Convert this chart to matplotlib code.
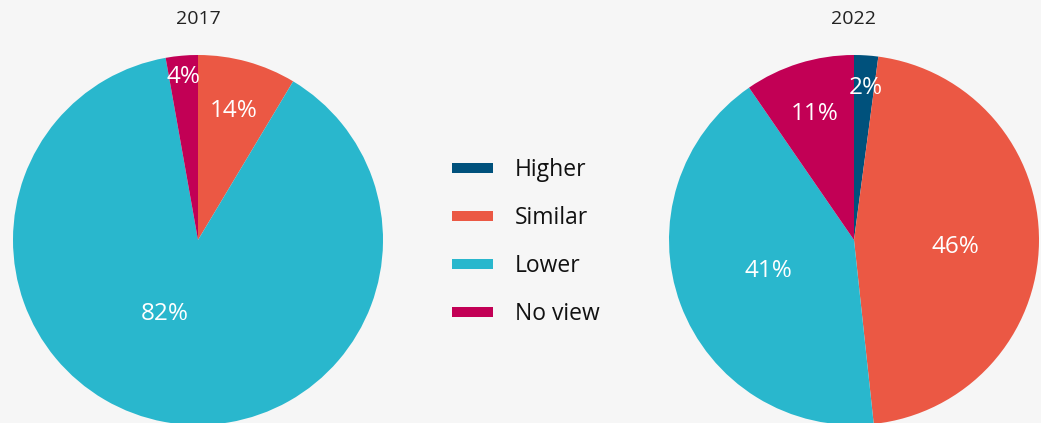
import matplotlib.pyplot as plt
from matplotlib.patches import Rectangle

categories = ["Higher", "Similar", "Lower", "No view"]
years = ["2017", "2022"]
# wedge sizes as drawn in the picture (percent of circle)
sizes_2017 = [0, 8.6, 88.6, 2.8]
sizes_2022 = [2.1, 46.2, 42.1, 9.6]
# printed labels
labels_2017 = ["", "14%", "82%", "4%"]
labels_2022 = ["2%", "46%", "41%", "11%"]

colors = ["#00517C", "#EB5844", "#29B7CD", "#C20055"]
bg = "#F6F6F6"

# label spots in pie units (radius 1)
pos_2017 = [None, (0.195, 0.70), (-0.18, -0.40), (-0.08, 0.88)]
pos_2022 = [(0.065, 0.82), (0.55, -0.04), (-0.46, -0.17), (-0.21, 0.68)]

plt.rcParams['font.family'] = ['Open Sans', 'DejaVu Sans']

W, H = 1041, 423
fig = plt.figure(figsize=(W / 100, H / 100), dpi=100, facecolor=bg)

def draw_pie(cx, cy, r, sizes, labels, pos, year):
    ax = fig.add_axes([(cx - r) / W, (H - cy - r) / H, 2 * r / W, 2 * r / H])
    ax.set_facecolor(bg)
    ax.pie(sizes, colors=colors, startangle=90, counterclock=False,
           radius=1, wedgeprops=dict(linewidth=0))
    for lab, p in zip(labels, pos):
        if p is None or not lab:
            continue
        ax.text(p[0], p[1], lab, ha='center', va='center', color='white', fontsize=17.5)
    ax.set_xlim(-1, 1)
    ax.set_ylim(-1, 1)
    ax.set_aspect('equal')
    ax.axis('off')
    fig.text(cx / W, 1 - 19.5 / H, year, ha='center', va='center', fontsize=14, color='#222222')

draw_pie(198, 240, 185, sizes_2017, labels_2017, pos_2017, years[0])
draw_pie(854, 240, 185, sizes_2022, labels_2022, pos_2022, years[1])

# legend
for i, (cat, col) in enumerate(zip(categories, colors)):
    y = 168 + 48 * i
    fig.add_artist(Rectangle((452 / W, 1 - (y + 5) / H), 41 / W, 10 / H,
                             transform=fig.transFigure, color=col, lw=0))
    fig.text(515 / W, 1 - (y + 2) / H, cat, ha='left', va='center', fontsize=16.5, color='#111111')

fig.savefig("out.png", dpi=100, facecolor=bg)
